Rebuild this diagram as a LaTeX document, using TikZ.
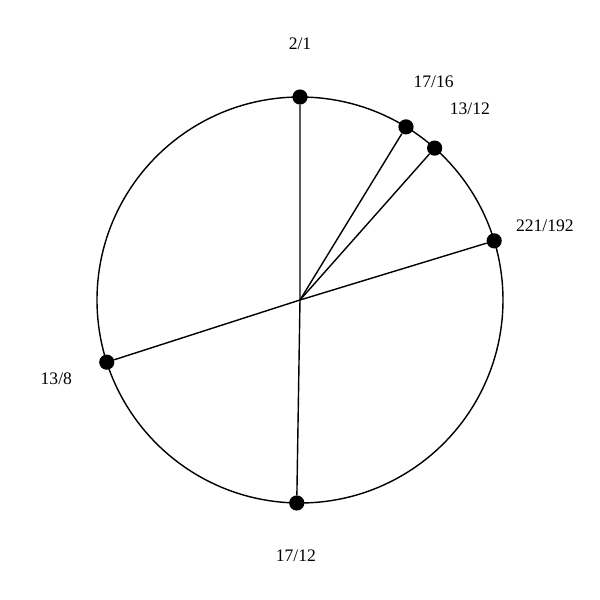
\documentclass[tikz,border=0pt]{standalone}
\usepackage{fontspec}
\setmainfont{Liberation Serif}
\begin{document}
\begin{tikzpicture}[
    dot/.style={circle, fill=black, inner sep=0pt, minimum size=0.38cm},
    ratiolabel/.style={font=\fontsize{12.5}{15}\selectfont}
  ]
            \useasboundingbox (-7.5,-7.5) rectangle (7.5,7.5);
            \coordinate (centre) at (0,0);

            \draw[
              line width=1pt,
              color=black
            ] (centre) circle[radius=5.075cm];

            \foreach \pname/\num/\den in {octave/2/1, seventeen/17/16, thirteen/13/12,
                                          big/221/192, eight/13/8, twelve/17/12} {
              \pgfmathsetmacro{\ang}{90-360*ln(\num/\den)/ln(2)}
              \node[dot] (\pname) at (\ang:5.075cm) {};
              \node[ratiolabel] (\pname-label) at (\ang:6.4cm) {\num/\den};
              \draw[line width=1pt] (centre) -- (\pname);
            }
    \end{tikzpicture}
\end{document}
